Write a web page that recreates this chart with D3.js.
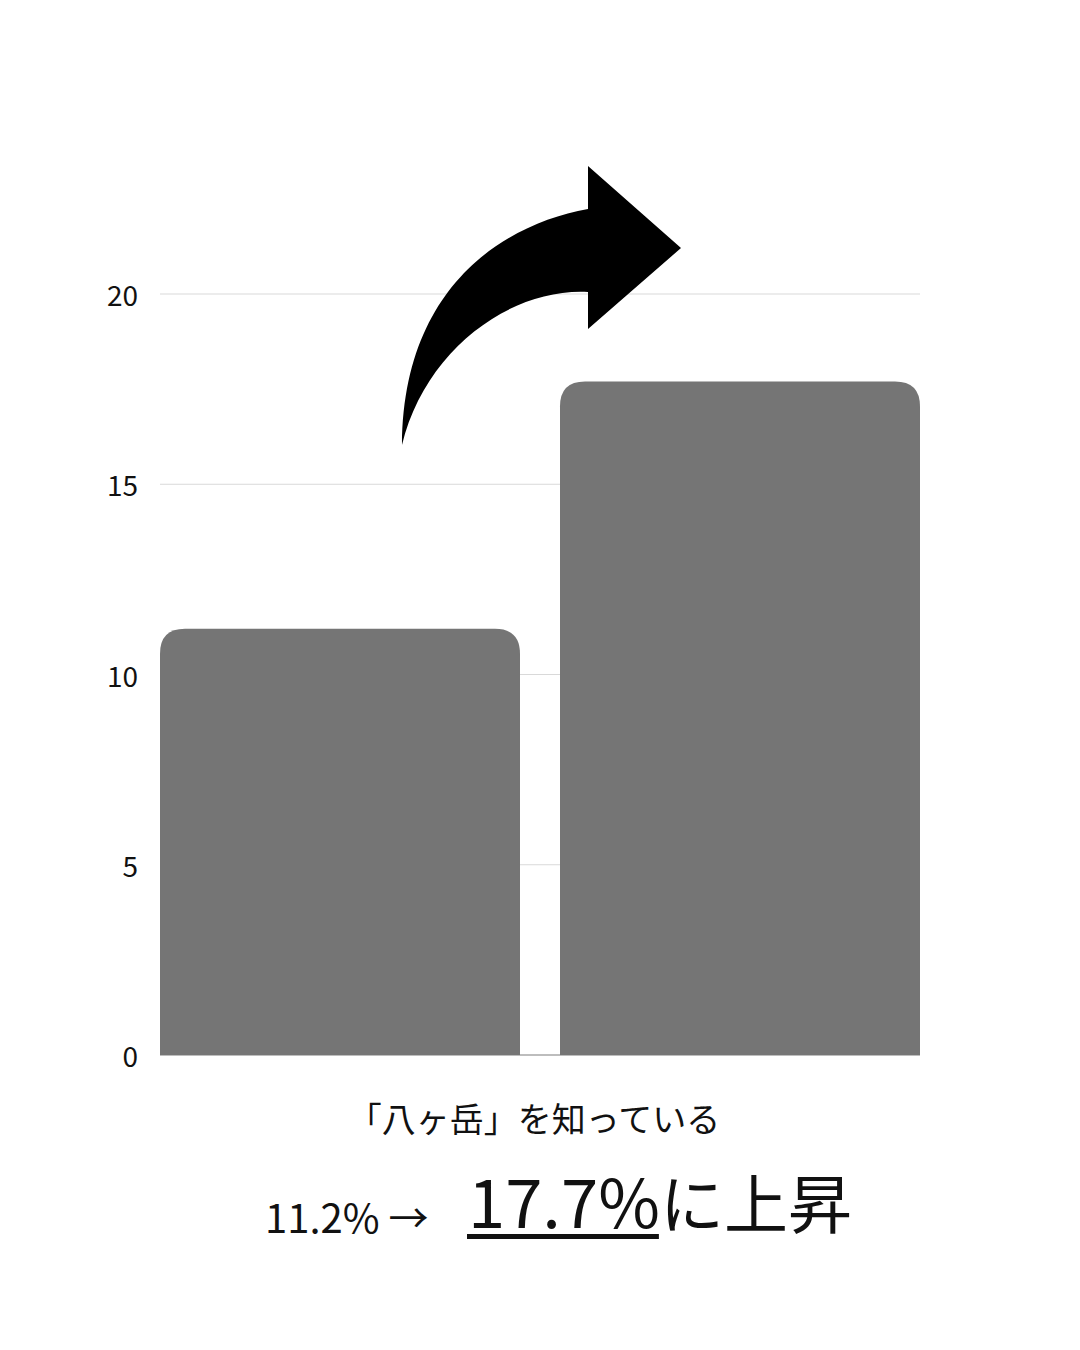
<!DOCTYPE html>
<html><head><meta charset="utf-8">
<script src="https://cdn.jsdelivr.net/npm/d3@7"></script>
<style>
html,body{margin:0;padding:0;background:#fff;}
svg{display:block;font-family:"Noto Sans CJK JP","Noto Sans",sans-serif;}
</style></head>
<body>
<svg id="chart" width="1080" height="1350"></svg>
<script>
const categories = ["before", "after"];
const values = [11.2, 17.7];
const yTicks = [0, 5, 10, 15, 20];
const xTitle = "「八ヶ岳」を知っている";
const fromLabel = "11.2% →";
const toLabel = "17.7%";
const suffixLabel = "に上昇";

const svg = d3.select("#chart");
const x = d3.scaleBand().domain(categories).range([160, 920]).paddingInner(0.1).paddingOuter(0);
const y = d3.scaleLinear().domain([0, 20]).range([1055, 294]);

// gridlines
svg.append("g").selectAll("line").data(yTicks.filter(d => d > 0)).join("line")
  .attr("x1", 160).attr("x2", 920)
  .attr("y1", d => y(d)).attr("y2", d => y(d))
  .attr("stroke", "#d9d9d9").attr("stroke-width", 1);

// tick labels
svg.append("g").selectAll("text").data(yTicks).join("text")
  .attr("x", 138).attr("y", d => y(d))
  .attr("text-anchor", "end").attr("dominant-baseline", "central")
  .attr("font-size", 28).attr("fill", "#111")
  .text(d => d);

// baseline
svg.append("line").attr("x1", 160).attr("x2", 920)
  .attr("y1", y(0)).attr("y2", y(0))
  .attr("stroke", "#bdbdbd").attr("stroke-width", 2);

// bars with rounded top corners
const r = 25;
function barPath(d, i) {
  const x0 = x(categories[i]), w = x.bandwidth();
  const yt = y(d), yb = y(0);
  return `M${x0},${yb} L${x0},${yt + r} Q${x0},${yt} ${x0 + r},${yt} L${x0 + w - r},${yt} Q${x0 + w},${yt} ${x0 + w},${yt + r} L${x0 + w},${yb} Z`;
}
svg.append("g").selectAll("path").data(values).join("path")
  .attr("d", (d, i) => barPath(d, i))
  .attr("fill", "#757575");

// curved arrow
svg.append("path")
  .attr("d", "M588,166 L681,248 L588,329 L588,292 C510,288 425,350 402,445 C403,290 500,225 588,209 Z")
  .attr("fill", "#000");

// x title
svg.append("text").attr("x", 534).attr("y", 1132)
  .attr("text-anchor", "middle").attr("font-size", 34).attr("fill", "#111")
  .text(xTitle);

// bottom line
svg.append("text").attr("x", 265).attr("y", 1233)
  .attr("font-size", 40).attr("fill", "#111").text(fromLabel);
const big = svg.append("text").attr("x", 468).attr("y", 1228)
  .attr("font-size", 67).attr("fill", "#111").text(toLabel);
const bw = big.node().getComputedTextLength();
svg.append("rect").attr("x", 467).attr("y", 1234).attr("width", bw).attr("height", 5).attr("fill", "#111");
svg.append("text").attr("x", 468 + bw).attr("y", 1228)
  .attr("font-size", 64).attr("fill", "#111").text(suffixLabel);
</script>
</body></html>
